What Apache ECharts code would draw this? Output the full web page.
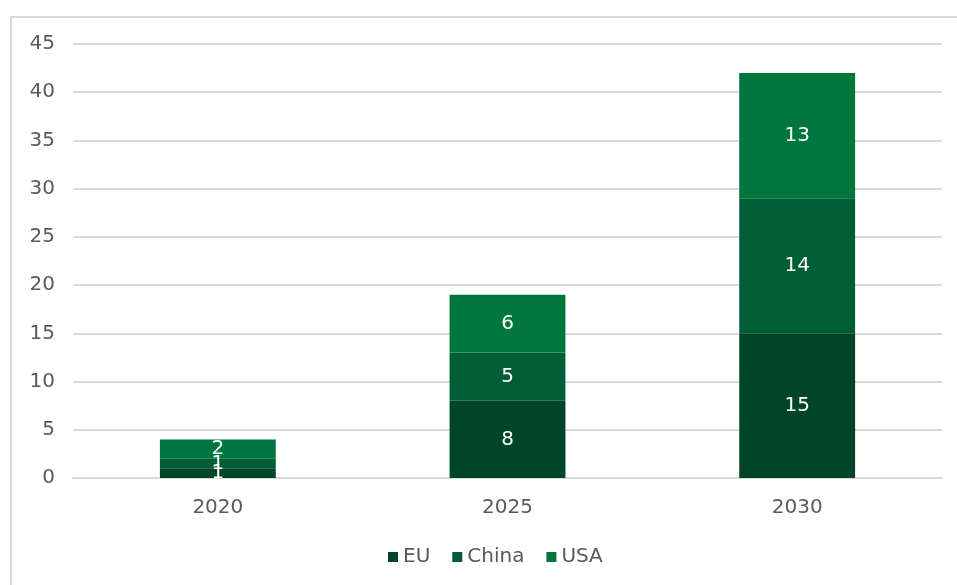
<!DOCTYPE html>
<html>
<head>
<meta charset="utf-8">
<script src="https://cdn.jsdelivr.net/npm/echarts@6/dist/echarts.min.js"></script>
<style>
    html, body { margin: 0; padding: 0; background: #fff; }
    #frame {
        position: absolute; left: 10px; top: 16px; right: 0; bottom: 0;
        border-left: 2px solid #d9d9d9; border-top: 2px solid #d9d9d9;
    }
    #main { position: absolute; left: 0; top: 0; width: 957px; height: 585px; }
</style>
</head>
<body>
<div id="frame"></div>
<div id="main"></div>
<script>
    const years = ['2020', '2025', '2030']
    const euData = [1, 8, 15]
    const chinaData = [1, 5, 14]
    const usaData = [2, 6, 13]

    const myChart = echarts.init(document.getElementById('main'))
    const font = 'DejaVu Sans, Verdana, sans-serif'

    function mkSeries(name, data, color) {
        return {
            name: name,
            type: 'bar',
            stack: 'total',
            barWidth: '40%',
            data: data,
            itemStyle: { color: color },
            label: {
                show: true,
                position: 'inside',
                color: '#fff',
                fontFamily: font,
                fontSize: 20
            }
        }
    }

    myChart.setOption({
        animation: false,
        textStyle: { fontFamily: font },
        grid: { left: 73, right: 15, top: 44, bottom: 107 },
        legend: {
            bottom: 13,
            left: 383,
            itemWidth: 10,
            itemHeight: 10,
            itemGap: 22,
            icon: 'rect',
            textStyle: { color: '#595959', fontSize: 20, fontFamily: font }
        },
        xAxis: {
            type: 'category',
            data: years,
            axisLine: { lineStyle: { color: '#d9d9d9', width: 2 } },
            axisTick: { show: false },
            axisLabel: { color: '#595959', fontSize: 20, margin: 20 }
        },
        yAxis: {
            type: 'value',
            min: 0,
            max: 45,
            interval: 5,
            axisLine: { show: false },
            axisTick: { show: false },
            splitLine: { lineStyle: { color: '#d9d9d9', width: 2 } },
            axisLabel: { color: '#595959', fontSize: 20, margin: 18 }
        },
        series: [
            mkSeries('EU', euData, '#00442a'),
            mkSeries('China', chinaData, '#005e36'),
            mkSeries('USA', usaData, '#00763f')
        ]
    })
</script>
</body>
</html>
